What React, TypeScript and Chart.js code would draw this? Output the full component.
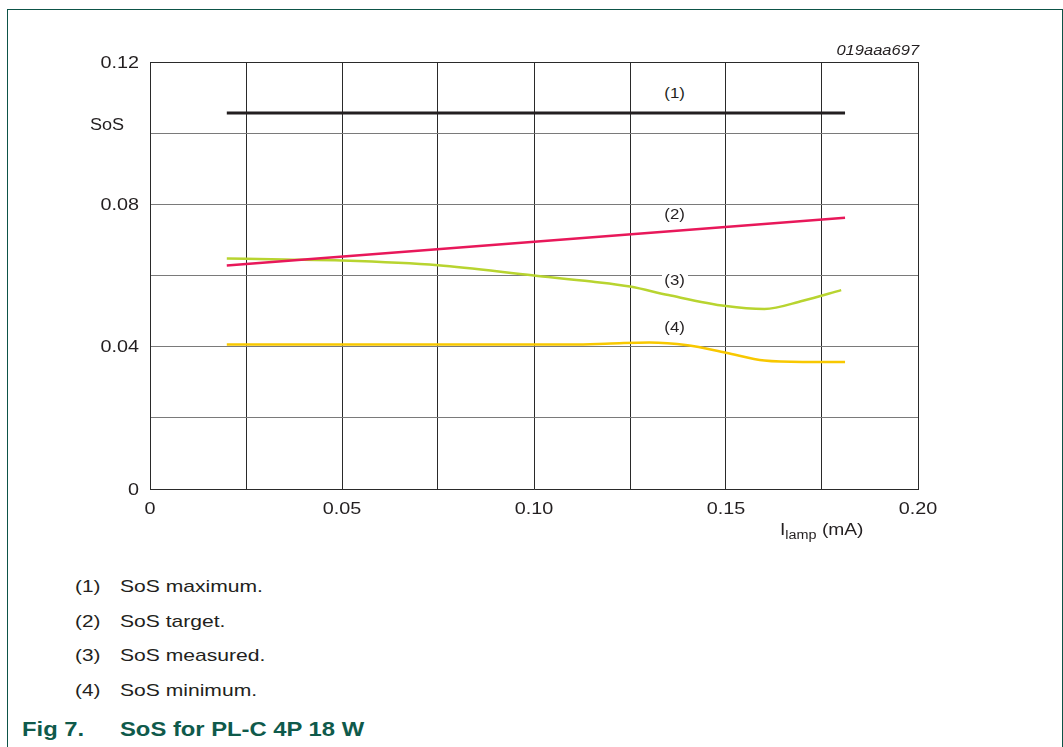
import React, { useEffect, useRef } from "react";
import { Chart, registerables } from "chart.js";

Chart.register(...registerables);

// ---- data ----
const maxX = [0.02, 0.181];
const maxY = [0.1057, 0.1057];

const targetX = [0.02, 0.181];
const targetY = [0.0628, 0.0762];

const measuredX = [0.02, 0.035, 0.05, 0.075, 0.1, 0.115, 0.125, 0.135, 0.15, 0.16, 0.17, 0.18];
const measuredY = [0.0648, 0.0645, 0.0642, 0.0629, 0.06, 0.0583, 0.0569, 0.0545, 0.0514, 0.0506, 0.0529, 0.0559];

const minimumX = [0.02, 0.05, 0.1, 0.11, 0.12, 0.13, 0.14, 0.15, 0.16, 0.17, 0.181];
const minimumY = [0.0406, 0.0406, 0.0406, 0.0406, 0.0409, 0.0412, 0.0404, 0.0383, 0.0361, 0.0357, 0.0357];

const xTickValues = [0, 0.05, 0.1, 0.15, 0.2];
const xTickLabels = ["0", "0.05", "0.10", "0.15", "0.20"];
const yTickValues = [0, 0.04, 0.08, 0.12];
const yTickLabels = ["0", "0.04", "0.08", "0.12"];

const legendItems = ["SoS maximum.", "SoS target.", "SoS measured.", "SoS minimum."];

const FONT = "'Liberation Sans', Arial, Helvetica, sans-serif";
const STRETCH = 1.2;

function pts(xs: number[], ys: number[]) {
  return xs.map((x, i) => ({ x, y: ys[i] }));
}

const stretchedTicks = {
  id: "stretchedTicks",
  afterDraw(chart: any) {
    const ctx = chart.ctx as CanvasRenderingContext2D;
    const xs = chart.scales.x;
    const ys = chart.scales.y;
    const area = chart.chartArea;
    ctx.save();
    ctx.font = `16.5px ${FONT}`;
    ctx.fillStyle = "#231f20";
    ctx.textBaseline = "middle";
    xTickValues.forEach((v, i) => {
      ctx.save();
      ctx.translate(xs.getPixelForValue(v), area.bottom + 20);
      ctx.scale(STRETCH, 1);
      ctx.textAlign = "center";
      ctx.fillText(xTickLabels[i], 0, 0);
      ctx.restore();
    });
    yTickValues.forEach((v, i) => {
      ctx.save();
      ctx.translate(area.left - 11, ys.getPixelForValue(v) + 1);
      ctx.scale(STRETCH, 1);
      ctx.textAlign = "right";
      ctx.fillText(yTickLabels[i], 0, 0);
      ctx.restore();
    });
    ctx.restore();
  },
};

export default function App() {
  const ref = useRef<HTMLCanvasElement | null>(null);

  useEffect(() => {
    if (!ref.current) return;
    const chart = new Chart(ref.current, {
      type: "scatter",
      data: {
        datasets: [
          { data: pts(maxX, maxY), borderColor: "#231f20", borderWidth: 3 },
          { data: pts(targetX, targetY), borderColor: "#e8185a", borderWidth: 2.5 },
          { data: pts(measuredX, measuredY), borderColor: "#b8d430", borderWidth: 2.5, cubicInterpolationMode: "monotone" },
          { data: pts(minimumX, minimumY), borderColor: "#f8c800", borderWidth: 2.5, cubicInterpolationMode: "monotone" },
        ].map((d) => ({ ...d, showLine: true, pointRadius: 0, pointHoverRadius: 0, fill: false })) as any,
      },
      options: {
        animation: false,
        responsive: false,
        maintainAspectRatio: false,
        events: [],
        layout: { padding: { left: 90, top: 62, right: 145, bottom: 31 } },
        plugins: { legend: { display: false }, tooltip: { enabled: false } },
        scales: {
          x: {
            type: "linear",
            min: 0,
            max: 0.2,
            afterFit: (s: any) => {
              s.height = 40;
            },
            ticks: { stepSize: 0.025, display: false, autoSkip: false },
            grid: { drawTicks: false, lineWidth: 1, color: "#2a2a2a" },
            border: { display: true, color: "#2a2a2a", width: 1 },
          },
          y: {
            type: "linear",
            min: 0,
            max: 0.12,
            afterFit: (s: any) => {
              s.width = 60;
            },
            ticks: { stepSize: 0.02, display: false, autoSkip: false },
            grid: {
              drawTicks: false,
              lineWidth: 1,
              color: (ctx: any) => (ctx.tick && Math.abs(ctx.tick.value - 0.12) < 1e-9 ? "#2a2a2a" : "#7a7a7a"),
            },
            border: { display: true, color: "#2a2a2a", width: 1 },
          },
        },
      },
      plugins: [stretchedTicks],
    });
    return () => chart.destroy();
  }, []);

  const txt: React.CSSProperties = {
    position: "absolute",
    fontFamily: FONT,
    color: "#231f20",
    whiteSpace: "nowrap",
    lineHeight: 1,
  };

  const S = (k: number, origin: string, children: React.ReactNode) => (
    <span style={{ display: "inline-block", transform: `scaleX(${k})`, transformOrigin: origin }}>{children}</span>
  );

  const curveLabel = (label: string, y: number) => (
    <div
      key={label}
      style={{
        ...txt,
        left: 662,
        top: y - 8,
        width: 26,
        textAlign: "center",
        fontSize: 14,
        background: "#fff",
        lineHeight: "16px",
      }}
    >
      {S(STRETCH, "center center", label)}
    </div>
  );

  return (
    <div style={{ position: "absolute", left: 0, top: 0, width: 1063, height: 747, background: "#fff", overflow: "hidden" }}>
      <div
        style={{
          position: "absolute",
          left: 7,
          top: 9,
          width: 1054,
          height: 760,
          borderLeft: "1px solid #0d5347",
          borderTop: "1px solid #0d5347",
          borderRight: "1px solid #0d5347",
        }}
      />
      <canvas ref={ref} width={1063} height={560} style={{ position: "absolute", left: 0, top: 0, width: 1063, height: 560 }} />
      {curveLabel("(1)", 93)}
      {curveLabel("(2)", 214)}
      {curveLabel("(3)", 280)}
      {curveLabel("(4)", 327)}
      <div style={{ ...txt, left: 90, top: 117, fontSize: 16 }}>{S(1.13, "left center", "SoS")}</div>
      <div style={{ ...txt, right: 1063 - 919, top: 43, fontSize: 14, fontStyle: "italic" }}>
        {S(1.18, "right center", "019aaa697")}
      </div>
      <div style={{ ...txt, left: 780, top: 522, fontSize: 16 }}>
        {S(
          1.2,
          "left center",
          <>
            I<sub style={{ fontSize: 12, verticalAlign: "-4px", lineHeight: 1 }}>lamp</sub> (mA)
          </>
        )}
      </div>
      {legendItems.map((t, i) => (
        <React.Fragment key={t}>
          <div style={{ ...txt, left: 75, top: 578 + i * 34.7, fontSize: 17 }}>{S(1.22, "left center", `(${i + 1})`)}</div>
          <div style={{ ...txt, left: 120, top: 578 + i * 34.7, fontSize: 17 }}>{S(1.24, "left center", t)}</div>
        </React.Fragment>
      ))}
      <div style={{ ...txt, left: 22, top: 720, fontSize: 19.5, fontWeight: "bold", color: "#0f5a4b" }}>
        {S(1.22, "left center", "Fig 7.")}
      </div>
      <div style={{ ...txt, left: 120, top: 720, fontSize: 19.5, fontWeight: "bold", color: "#0f5a4b" }}>
        {S(1.22, "left center", "SoS for PL-C 4P 18 W")}
      </div>
    </div>
  );
}
